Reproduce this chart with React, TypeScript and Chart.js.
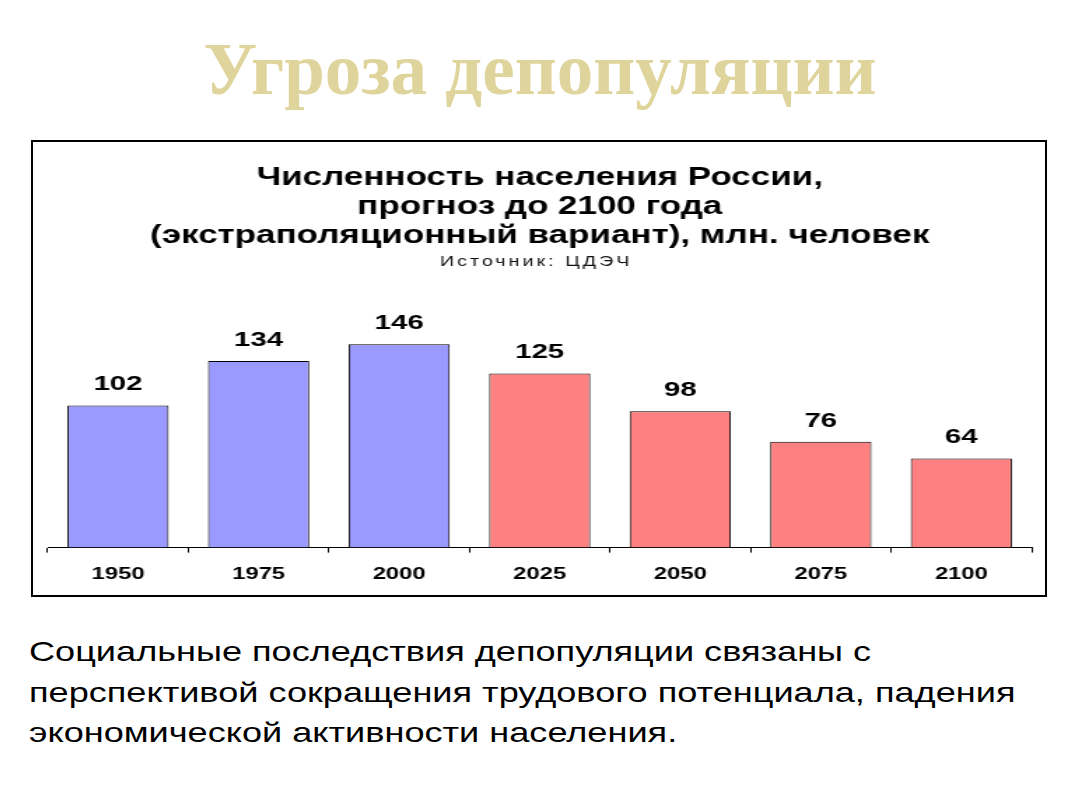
import React, { useEffect, useRef } from "react";
import { Chart, registerables } from "chart.js";

Chart.register(...registerables);

const categories = ["1950", "1975", "2000", "2025", "2050", "2075", "2100"];
const population = [102, 134, 146, 125, 98, 76, 64];
const barColors = ["#9999ff", "#9999ff", "#9999ff", "#ff8080", "#ff8080", "#ff8080", "#ff8080"];
const chartTitle = [
  "Численность населения России,",
  "прогноз до 2100 года",
  "(экстраполяционный вариант), млн. человек",
];
const chartSource = "Источник: ЦДЭЧ";
const pageTitle = "Угроза депопуляции";
const bodyLines = [
  "Социальные последствия депопуляции связаны с",
  "перспективой сокращения трудового потенциала, падения",
  "экономической активности населения.",
];

const STRETCH = 1.4;
const BOX_W = 1016;
const BOX_H = 457;
const INNER_W = Math.round(BOX_W / STRETCH);
const FONT = "'Liberation Sans', Arial, sans-serif";

const valueLabels = {
  id: "valueLabels",
  afterDatasetsDraw(chart: any) {
    const ctx = chart.ctx;
    const meta = chart.getDatasetMeta(0);
    ctx.save();
    ctx.font = "bold 21px " + FONT;
    ctx.fillStyle = "#000";
    ctx.textAlign = "center";
    ctx.textBaseline = "middle";
    meta.data.forEach((bar: any, i: number) => {
      ctx.fillText(String(population[i]), bar.x, bar.y - 21);
    });
    ctx.restore();
  },
};

const sourceLabel = {
  id: "sourceLabel",
  afterDraw(chart: any) {
    const ctx = chart.ctx;
    ctx.save();
    ctx.font = "normal 14px " + FONT;
    (ctx as any).letterSpacing = "2.2px";
    ctx.fillStyle = "#111";
    ctx.textAlign = "center";
    ctx.textBaseline = "middle";
    ctx.fillText(chartSource, chart.width / 2 - 2, chart.chartArea.top - 8);
    ctx.restore();
  },
};

function ChartBox() {
  const ref = useRef<HTMLCanvasElement | null>(null);
  useEffect(() => {
    const canvas = ref.current!;
    const chart = new Chart(canvas, {
      type: "bar",
      data: {
        labels: categories,
        datasets: [
          {
            data: population,
            backgroundColor: barColors,
            borderColor: "#000",
            borderWidth: 1,
            barPercentage: 0.72,
            categoryPercentage: 1,
          },
        ],
      },
      options: {
        responsive: false,
        animation: false,
        devicePixelRatio: 1,
        layout: { padding: { left: 12, right: 11, top: 0, bottom: 0 } },
        plugins: {
          legend: { display: false },
          tooltip: { enabled: false },
          title: {
            display: true,
            text: chartTitle,
            color: "#000",
            font: { family: FONT, size: 25, weight: "bold", lineHeight: 29 / 25 },
            padding: { top: 23.5, bottom: 20 },
          },
        },
        scales: {
          x: {
            grid: {
              display: true,
              drawOnChartArea: false,
              drawTicks: true,
              tickLength: 5,
              color: "#000",
              offset: true,
            },
            border: { display: true, color: "#000", width: 1 },
            ticks: {
              color: "#000",
              padding: 12,
              font: { family: FONT, size: 17, weight: "bold" },
            },
          },
          y: {
            display: false,
            min: 0,
            max: 199,
          },
        },
      },
      plugins: [valueLabels, sourceLabel],
    });
    return () => chart.destroy();
  }, []);
  return (
    <canvas
      ref={ref}
      width={INNER_W}
      height={BOX_H}
      style={{ position: "absolute", left: 31, top: 140, width: BOX_W + "px", height: BOX_H + "px" }}
    />
  );
}

export default function App() {
  return (
    <div style={{ position: "absolute", left: 0, top: 0, width: 1067, height: 800, background: "#fff", overflow: "hidden" }}>
      <div
        style={{
          position: "absolute",
          left: 0,
          top: 34,
          width: 1080,
          textAlign: "center",
          fontFamily: "'Liberation Serif', 'Times New Roman', serif",
          fontWeight: "bold",
          fontSize: 73,
          lineHeight: "72px",
          color: "#dfd49b",
          whiteSpace: "nowrap",
        }}
      >
        {pageTitle}
      </div>
      <div
        style={{
          position: "absolute",
          left: 31,
          top: 140,
          width: BOX_W,
          height: BOX_H,
          boxSizing: "border-box",
          border: "2px solid #000",
        }}
      />
      <ChartBox />
      <div
        style={{
          position: "absolute",
          left: 29,
          top: 632,
          fontFamily: FONT,
          fontSize: 28,
          lineHeight: "40.5px",
          color: "#000",
          whiteSpace: "nowrap",
          transform: "scaleX(1.29)",
          transformOrigin: "0 0",
        }}
      >
        {bodyLines.map((l, i) => (
          <div key={i}>{l}</div>
        ))}
      </div>
    </div>
  );
}
